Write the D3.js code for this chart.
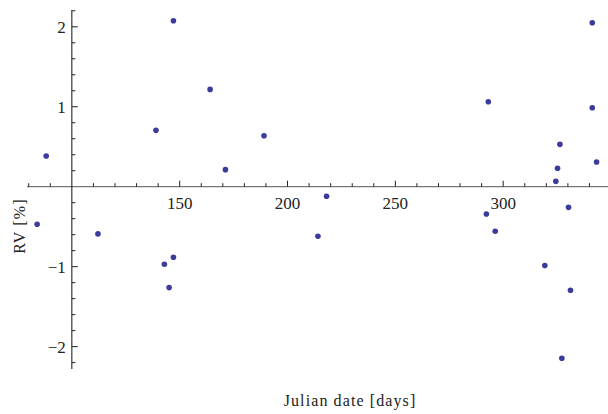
<!DOCTYPE html>
<html>
<head>
<meta charset="utf-8">
<script src="https://cdn.jsdelivr.net/npm/d3@7"></script>
<style>
  body { margin: 0; background: #fff; }
  .tick text { font-family: "Liberation Serif", serif; font-size: 17px; fill: #222; }
  .axis-label { font-family: "Liberation Serif", serif; font-size: 16px; letter-spacing: 1.1px; fill: #222; }
</style>
</head>
<body>
<div id="chart"></div>
<script>
var svgWidth = 608;
var svgHeight = 414;

// julian date [days] and RV [%]
var julianDays = [88.1, 139, 147.1, 164.1, 171.2, 189.1, 218.1, 293.1, 341.3, 341.3,
  326.3, 325.2, 324.4, 343.3, 330.3, 83.9, 112.1, 142.9, 147.1, 145.1,
  214.1, 292.2, 296.3, 319.3, 331.2, 327.2];
var rvValues = [0.384, 0.705, 2.075, 1.217, 0.213, 0.638, -0.12, 1.063, 2.05, 0.988,
  0.53, 0.23, 0.067, 0.309, -0.258, -0.47, -0.59, -0.97, -0.883, -1.262,
  -0.62, -0.341, -0.558, -0.987, -1.295, -2.145];
var xMajorTicks = [150, 200, 250, 300];
var yMajorTicks = [-2, -1, 1, 2];

var data = julianDays.map((d, i) => ({ day: d, rv: rvValues[i] }));

var svg = d3.select("#chart")
  .append("svg")
  .attr("width", svgWidth)
  .attr("height", svgHeight);

var x = d3.scaleLinear().domain([79.2, 348.6]).range([27, 608]);
var y = d3.scaleLinear().domain([-2.28, 2.21]).range([369, 10]);

// minor ticks
var xMinor = d3.range(80, 350, 10).filter(d => xMajorTicks.indexOf(d) < 0 && d !== 100);
var yMinor = d3.range(-22, 23, 2).map(d => d / 10).filter(d => d !== 0 && yMajorTicks.indexOf(d) < 0);

// x axis along y = 0, ticks pointing up
var xAxisG = svg.append("g")
  .attr("transform", `translate(0, ${y(0)})`);
xAxisG.append("line")
  .attr("x1", 27).attr("x2", 608)
  .attr("stroke", "#555").attr("stroke-width", 1);
xAxisG.selectAll(".minor")
  .data(xMinor)
  .enter()
  .append("line")
  .attr("x1", d => x(d)).attr("x2", d => x(d))
  .attr("y1", 0).attr("y2", -3.5)
  .attr("stroke", "#222");
var xt = xAxisG.selectAll(".tick")
  .data(xMajorTicks)
  .enter()
  .append("g")
  .attr("class", "tick")
  .attr("transform", d => `translate(${x(d)}, 0)`);
xt.append("line").attr("y1", 0).attr("y2", -6).attr("stroke", "#222");
xt.append("text")
  .attr("y", 22)
  .attr("text-anchor", "middle")
  .text(d => d);

// y axis at day 100, ticks pointing right
var yAxisG = svg.append("g")
  .attr("transform", `translate(${x(100)}, 0)`);
yAxisG.append("line")
  .attr("y1", 10).attr("y2", 369)
  .attr("stroke", "#111").attr("stroke-width", 1);
yAxisG.selectAll(".minor")
  .data(yMinor)
  .enter()
  .append("line")
  .attr("y1", d => y(d)).attr("y2", d => y(d))
  .attr("x1", 0).attr("x2", 3.5)
  .attr("stroke", "#222");
var yt = yAxisG.selectAll(".tick")
  .data(yMajorTicks)
  .enter()
  .append("g")
  .attr("class", "tick")
  .attr("transform", d => `translate(0, ${y(d)})`);
yt.append("line").attr("x1", 0).attr("x2", 6).attr("stroke", "#222");
yt.append("text")
  .attr("x", -6)
  .attr("dy", "0.35em")
  .attr("text-anchor", "end")
  .text(d => d < 0 ? "\u2212" + Math.abs(d) : d);

// points
svg.selectAll("circle")
  .data(data)
  .enter()
  .append("circle")
  .attr("cx", d => x(d.day))
  .attr("cy", d => y(d.rv))
  .attr("r", 2.8)
  .attr("fill", "#3b3b9e");

// axis labels
svg.append("text")
  .attr("class", "axis-label")
  .attr("x", 350)
  .attr("y", 406)
  .attr("text-anchor", "middle")
  .text("Julian date [days]");

svg.append("text")
  .attr("class", "axis-label")
  .attr("transform", "translate(25, 226) rotate(-90)")
  .attr("text-anchor", "middle")
  .text("RV [%]");
</script>
</body>
</html>
